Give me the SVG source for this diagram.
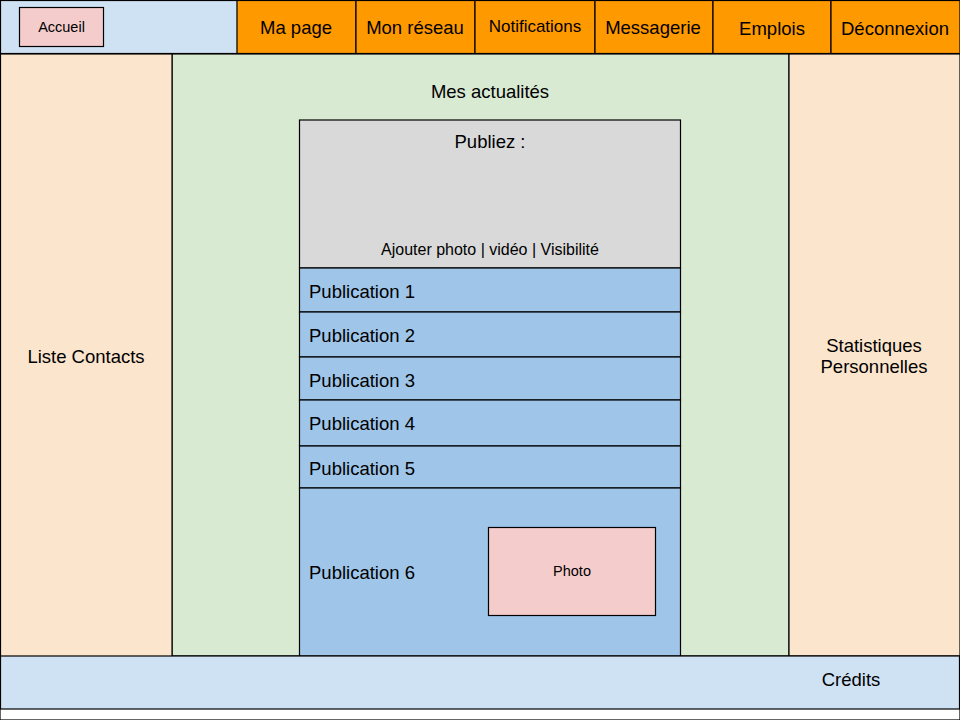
<svg xmlns="http://www.w3.org/2000/svg" width="960" height="720" viewBox="0 0 960 720">
<style>
rect{stroke:#000;stroke-width:1.2}
text{font-family:"Liberation Sans",Arial,sans-serif;fill:#000;text-anchor:middle;dominant-baseline:central}
.t17{font-size:18.5px}.t16{font-size:18.5px}.t15{font-size:17px}.t14{font-size:16px}.t13{font-size:14.5px}
.nav{fill:#ff9900}.blue{fill:#cfe2f3}.peach{fill:#fce5cd}.pub{fill:#9fc5e8}.pink{fill:#f4cccc}
.l{text-anchor:start}
</style>
<rect width="960" height="720" fill="#fff" stroke="none"/>
<g id="topbar"><rect class="blue" x="0.5" y="0.5" width="237" height="53"/></g>
<g id="accueil"><rect class="pink" x="19.5" y="7.5" width="84" height="39"/><text class="t13" x="61.5" y="27">Accueil</text></g>
<g id="mapage"><rect class="nav" x="237" y="0.5" width="119" height="53"/><text class="t17" x="296" y="27">Ma page</text></g>
<g id="monreseau"><rect class="nav" x="356" y="0.5" width="119" height="53"/><text class="t17" x="415" y="27">Mon réseau</text></g>
<g id="notifications"><rect class="nav" x="475" y="0.5" width="120" height="53"/><text class="t15" x="535" y="26">Notifications</text></g>
<g id="messagerie"><rect class="nav" x="595" y="0.5" width="118" height="53"/><text class="t17" x="653" y="27">Messagerie</text></g>
<g id="emplois"><rect class="nav" x="713" y="0.5" width="118" height="53"/><text class="t17" x="772" y="28">Emplois</text></g>
<g id="deconnexion"><rect class="nav" x="831" y="0.5" width="129" height="53"/><text class="t17" x="895" y="28">Déconnexion</text></g>
<g id="actualites"><rect fill="#d9ead3" x="172" y="54" width="617" height="602"/><text class="t16" x="490" y="91">Mes actualités</text></g>
<g id="contacts"><rect class="peach" x="0.5" y="54" width="171.5" height="603"/><text class="t17" x="86" y="356">Liste Contacts</text></g>
<g id="stats"><rect class="peach" x="789" y="54" width="171" height="602"/><text class="t17" x="874" y="345">Statistiques</text><text class="t17" x="874" y="366">Personnelles</text></g>
<g id="publiez"><rect fill="#d9d9d9" x="299.5" y="120" width="381" height="148"/><text class="t17" x="490" y="141">Publiez :</text><text class="t14" x="490" y="249">Ajouter photo | vidéo | Visibilité</text></g>
<g id="pub1"><rect class="pub" x="299.5" y="268" width="381" height="44"/><text class="t17 l" x="309" y="291">Publication 1</text></g>
<g id="pub2"><rect class="pub" x="299.5" y="312" width="381" height="45"/><text class="t17 l" x="309" y="335">Publication 2</text></g>
<g id="pub3"><rect class="pub" x="299.5" y="357" width="381" height="43"/><text class="t17 l" x="309" y="380">Publication 3</text></g>
<g id="pub4"><rect class="pub" x="299.5" y="400" width="381" height="46"/><text class="t17 l" x="309" y="423">Publication 4</text></g>
<g id="pub5"><rect class="pub" x="299.5" y="446" width="381" height="42"/><text class="t17 l" x="309" y="468">Publication 5</text></g>
<g id="pub6"><rect class="pub" x="299.5" y="488" width="381" height="168"/><text class="t17 l" x="309" y="572">Publication 6</text></g>
<g id="photo"><rect class="pink" x="488.5" y="527.5" width="167" height="88"/><text class="t13" x="572" y="571">Photo</text></g>
<g id="credits"><rect class="blue" x="0.5" y="656" width="959" height="53"/><text class="t16" x="851" y="679">Crédits</text></g>
<g id="connectors"></g>
</svg>
